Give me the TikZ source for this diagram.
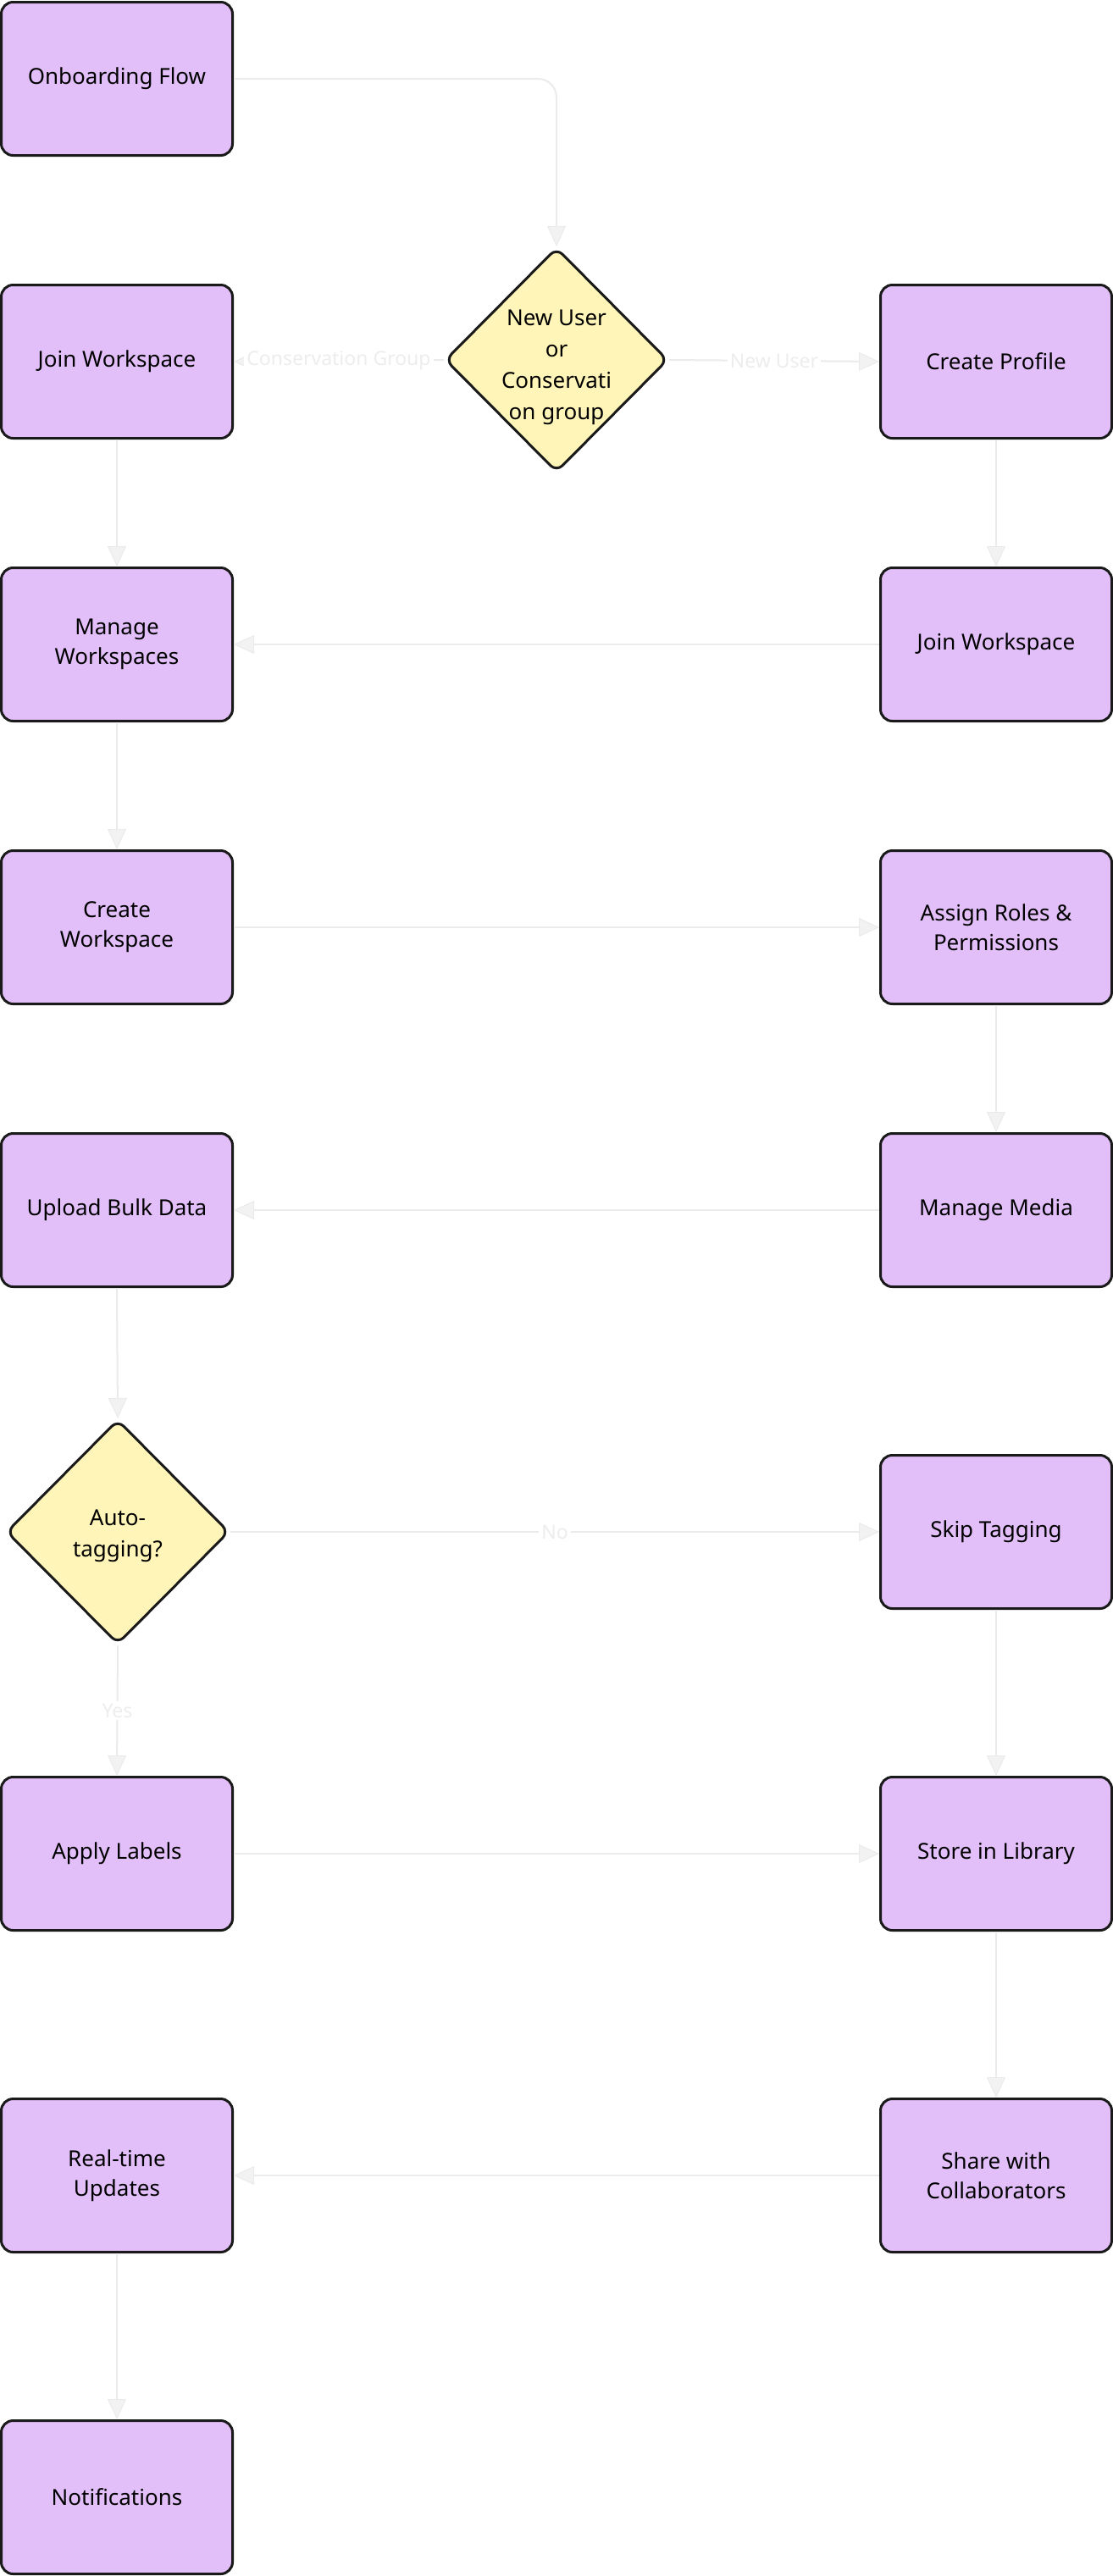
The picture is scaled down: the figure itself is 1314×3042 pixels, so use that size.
\documentclass[tikz,border=0pt]{standalone}
\usepackage{fontspec}
\setmainfont{Noto Sans}
\usetikzlibrary{arrows.meta,shapes.geometric}
\definecolor{boxfill}{HTML}{E3BFFA}
\definecolor{decfill}{HTML}{FFF5B8}
\definecolor{edgecol}{HTML}{EBEBEB}
\definecolor{tipfill}{HTML}{F2F2F2}
\definecolor{labcol}{HTML}{EDEDED}
\definecolor{bordercol}{HTML}{1A1A1A}
\newcommand{\dectext}[2]{\smash{\raisebox{#1}{\begin{tabular}[c]{@{}c@{}}#2\end{tabular}}}}
\tikzset{
  x=1pt, y=-1pt,
  stepbox/.style={draw=bordercol, line width=3pt, fill=boxfill, rounded corners=14pt,
    minimum width=273pt, minimum height=181pt, inner sep=0pt, align=center,
    font=\fontsize{26}{35}\selectfont},
  decision/.style={diamond, draw=bordercol, line width=3pt, fill=decfill, rounded corners=10pt,
    minimum width=263pt, minimum height=265pt, inner sep=0pt, align=center,
    font=\fontsize{26}{37}\selectfont},
  flow/.style={draw=edgecol, line width=2pt,
    -{Triangle[length=24pt, width=22pt, fill=tipfill, color=edgecol, line width=1pt]}},
  elabel/.style={fill=white, text=labcol, inner sep=3pt, font=\fontsize{23}{28}\selectfont}
}
\begin{document}
\begin{tikzpicture}
\useasboundingbox (0,0) rectangle (1314,3042);
\fill[white] (0,0) rectangle (1314,3042);

\node[stepbox] (on) at (138,93) {Onboarding Flow};
\node[decision] (d1) at (657,425) {\dectext{-14pt}{New User\\or\\Conservati\\on group}};
\node[stepbox] (jw1) at (138,427) {Join Workspace};
\node[stepbox] (cp) at (1176,427) {Create Profile};
\node[stepbox] (mw) at (138,761) {Manage\\Workspaces};
\node[stepbox] (jw2) at (1176,761) {Join Workspace};
\node[stepbox] (cw) at (138,1095) {Create\\Workspace};
\node[stepbox] (ar) at (1176,1095) {Assign Roles \&\\Permissions};
\node[stepbox] (ub) at (138,1429) {Upload Bulk Data};
\node[stepbox] (mm) at (1176,1429) {Manage Media};
\node[decision] (d2) at (139,1809) {\dectext{-10pt}{Auto-\\tagging?}};
\node[stepbox] (sk) at (1176,1809) {Skip Tagging};
\node[stepbox] (al) at (138,2189) {Apply Labels};
\node[stepbox] (sl) at (1176,2189) {Store in Library};
\node[stepbox] (ru) at (138,2569) {Real-time\\Updates};
\node[stepbox] (sh) at (1176,2569) {Share with\\Collaborators};
\node[stepbox] (nt) at (138,2949) {Notifications};

\draw[flow, rounded corners=22pt] (on.east) -| (d1.north);
\draw[flow] (d1.west) -- node[elabel] {Conservation Group} (jw1.east);
\draw[flow] (d1.east) -- node[elabel] {New User} (cp.west);
\draw[flow] (cp.south) -- (jw2.north);
\draw[flow] (jw2.west) -- (mw.east);
\draw[flow] (jw1.south) -- (mw.north);
\draw[flow] (mw.south) -- (cw.north);
\draw[flow] (cw.east) -- (ar.west);
\draw[flow] (ar.south) -- (mm.north);
\draw[flow] (mm.west) -- (ub.east);
\draw[flow] (ub.south) -- (d2.north);
\draw[flow] (d2.east) -- node[elabel] {No} (sk.west);
\draw[flow] (d2.south) -- node[elabel] {Yes} (al.north);
\draw[flow] (sk.south) -- (sl.north);
\draw[flow] (al.east) -- (sl.west);
\draw[flow] (sl.south) -- (sh.north);
\draw[flow] (sh.west) -- (ru.east);
\draw[flow] (ru.south) -- (nt.north);
\end{tikzpicture}
\end{document}
